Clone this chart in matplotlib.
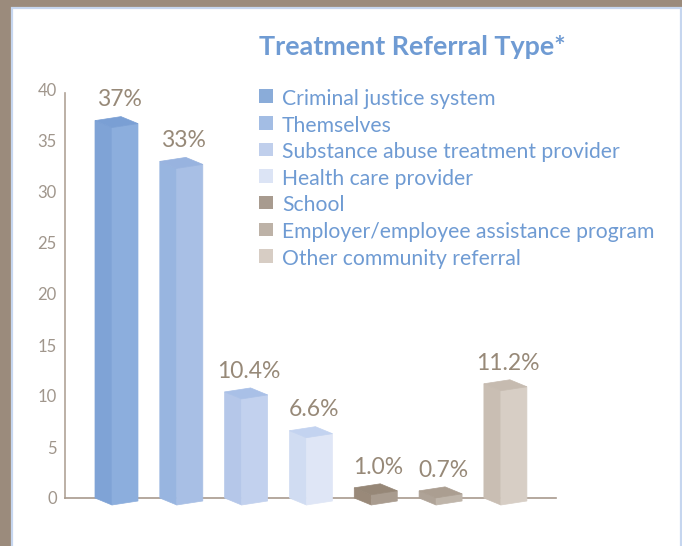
import numpy as np
import matplotlib.pyplot as plt
from matplotlib.patches import Rectangle

# data
categories = ['Criminal justice system', 'Themselves', 'Substance abuse treatment provider',
              'Health care provider', 'School', 'Employer/employee assistance program',
              'Other community referral']
values = [37, 33, 10.4, 6.6, 1.0, 0.7, 11.2]
labels = ['37%', '33%', '10.4%', '6.6%', '1.0%', '0.7%', '11.2%']
yticks = [0, 5, 10, 15, 20, 25, 30, 35, 40]

# face colours of each box: front, left side, top
front_colors = ['#8caedd', '#a8bfe5', '#c2d1ee', '#dfe6f6', '#a99c8f', '#bfb5aa', '#d7cec5']
side_colors = ['#7fa3d6', '#98b5e0', '#b5c7e9', '#d0dcf2', '#998979', '#afa397', '#c9beb3']
top_colors = ['#7a9fd4', '#98b3df', '#a9c0e7', '#c3d3f0', '#968777', '#ab9e91', '#c6bbb0']
legend_colors = ['#8aacd9', '#a3bde4', '#c0cfec', '#dce4f5', '#a89b8f', '#bdb2a7', '#d7cdc4']

W, H = 682, 546
blue_text = '#6f9bd3'
grey_text = '#978978'

fig = plt.figure(figsize=(W / 100, H / 100), dpi=100, facecolor='#9b8b7c')

# white panel with thin blue border
fig.patches.append(Rectangle((12 / W, -0.1), 668.5 / W, (H - 8) / H + 0.1,
                             transform=fig.transFigure, facecolor='white',
                             edgecolor='#c6d6ef', linewidth=1.6, zorder=-10))

ax = fig.add_axes([65 / W, 48 / H, 491 / W, 408 / H])
ax.set_facecolor('none')
ax.set_xlim(-0.725, 6.85)
ax.set_ylim(0, 40)

# 3D box offsets (data units) relative to the left-back-bottom corner
px_x = 491 / (6.85 + 0.725)
px_y = 408 / 40
front = np.array([17 / px_x, -7 / px_y])
right = np.array([43 / px_x, -3 / px_y])
back = right - front

for i, v in enumerate(values):
    L = np.array([i - 17 / px_x, 0.0])
    F = L + front
    R = L + right
    B = L + back
    up = np.array([0, v])
    left_face = [L, F, F + up, L + up]
    front_face = [F, R, R + up, F + up]
    top_face = [L + up, F + up, R + up, B + up]
    for face, col in [(left_face, side_colors[i]), (front_face, front_colors[i]),
                      (top_face, top_colors[i])]:
        xs, ys = zip(*face)
        ax.fill(xs, ys, color=col, lw=0.5, ec=col, clip_on=False, zorder=3)
    ax.text(i + 0.11, v + 1.0, labels[i], ha='center', va='bottom', fontsize=16.5,
            color=grey_text, family='Lato', zorder=4)

for s in ['top', 'right']:
    ax.spines[s].set_visible(False)
ax.spines['left'].set_color('#b0a397')
ax.spines['bottom'].set_color('#a89a8d')
ax.spines['left'].set_linewidth(1.2)
ax.spines['bottom'].set_linewidth(1.2)
ax.spines['left'].set_bounds(0, 39.7)
ax.set_xticks([])
ax.set_yticks(yticks)
ax.tick_params(axis='y', length=0, pad=6, labelsize=12, labelcolor='#a0968c')
for t in ax.get_yticklabels():
    t.set_family('Lato')

# title
fig.text(259 / W, 1 - 55 / H, 'Treatment Referral Type*', ha='left', va='baseline',
         fontsize=19.4, fontweight='bold', color=blue_text, family='Lato')

# legend
for i, (name, c) in enumerate(zip(categories, legend_colors)):
    base = 105 + i * 26.6
    fig.patches.append(Rectangle((259 / W, 1 - (base - 2) / H), 13.5 / W, 13.5 / H,
                                 transform=fig.transFigure, facecolor=c, edgecolor='none'))
    fig.text(282 / W, 1 - base / H, name, ha='left', va='baseline',
             fontsize=15.2, color=blue_text, family='Lato')

fig.savefig('out.png', dpi=100, facecolor=fig.get_facecolor())
